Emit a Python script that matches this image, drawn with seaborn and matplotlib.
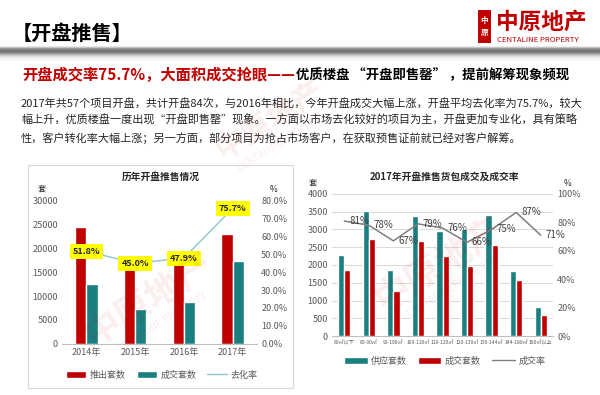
import numpy as np
import pandas as pd
import matplotlib
matplotlib.use("Agg")
import matplotlib.pyplot as plt
import seaborn as sns
from matplotlib.patches import Rectangle, Patch
from matplotlib.lines import Line2D

# ============================
# DATA
# ============================
years = ["2014年", "2015年", "2016年", "2017年"]
launched = [24400, 16200, 18100, 23000]
sold_year = [12600, 7300, 8700, 17400]
sell_rate = [0.518, 0.450, 0.479, 0.757]

areas = ["80㎡以下", "80-90㎡", "90-100㎡", "100-110㎡", "110-120㎡",
         "120-130㎡", "130-144㎡", "144-180㎡", "180㎡以上"]
supply = [2280, 3520, 1870, 3380, 2960, 3010, 3420, 1830, 830]
sold_area = [1850, 2740, 1260, 2680, 2250, 1980, 2550, 1590, 600]
deal_rate = [0.81, 0.78, 0.67, 0.79, 0.76, 0.66, 0.75, 0.87, 0.71]

RED = "#C00000"
TEAL = "#1A7F80"
TICK = "#595959"

sns.set_theme(style="white")
plt.rcParams["font.family"] = ["Noto Sans CJK SC", "DejaVu Sans"]

W, H = 600, 395
fig = plt.figure(figsize=(6, 3.95), dpi=100)


def fx(px):
    return px / W


def fy(py):
    return 1 - py / H


# ============================
# HEADER
# ============================
fig.text(fx(12), fy(33), "【开盘推售】", fontsize=14.5, weight="bold", va="center", color="black")

# logo
fig.add_artist(Rectangle((fx(478), fy(43)), fx(13), 33 / H, transform=fig.transFigure,
                         fc=RED, ec="none"))
fig.text(fx(484.5), fy(26.5), "中\n原", fontsize=5.5, color="white", ha="center", va="center",
         weight="bold", linespacing=1.5)
fig.text(fx(496), fy(22), "中原地产", fontsize=16.3, weight="bold", color=RED, va="center")
fig.text(fx(497), fy(40), "CENTALINE PROPERTY", fontsize=5.6, color=RED, va="center")

# gray separator band
band = fig.add_axes([0, fy(62), 1, 17 / H])
shades = np.array([1.0, 0.9, 0.72, 0.55, 0.47, 0.45, 0.5, 0.6, 0.72, 0.82,
                   0.89, 0.93, 0.96, 0.98, 1.0])
band.imshow(np.repeat(shades[:, None], 3, axis=1)[:, None, :] * np.ones((1, 2, 1)),
            aspect="auto", interpolation="bilinear")
band.axis("off")

# subtitle: red part, black part placed right after it
red_part = fig.text(fx(22), fy(75), "开盘成交率75.7%，大面积成交抢眼——", fontsize=11,
                    weight="bold", color=RED, va="center")
renderer = fig.canvas.get_renderer()
red_end = red_part.get_window_extent(renderer).x1
fig.text(fx(red_end + 1), fy(75.5), "优质楼盘 “开盘即售罄” ，提前解筹现象频现", fontsize=9.6,
         weight="bold", color="black", va="center")

para = [
    "2017年共57个项目开盘，共计开盘84次，与2016年相比，今年开盘成交大幅上涨，开盘平均去化率为75.7%，较大",
    "幅上升，优质楼盘一度出现“开盘即售罄”现象。一方面以市场去化较好的项目为主，开盘更加专业化，具有策略",
    "性，客户转化率大幅上涨；另一方面，部分项目为抢占市场客户，在获取预售证前就已经对客户解筹。",
]
for i, line in enumerate(para):
    fig.text(fx(21), fy(103 + i * 17.5), line, fontsize=8, color="#262626", va="center")

# watermarks
for (wx, wy, s) in [(150, 300, 26), (440, 265, 26), (270, 120, 22)]:
    fig.text(fx(wx), fy(wy), "中原地产", fontsize=s, weight="bold", color=RED, alpha=0.07,
             rotation=32, ha="center", va="center", zorder=20)
    fig.text(fx(wx + 12), fy(wy + 22), "CENTALINE PROPERTY", fontsize=7, color=RED,
             alpha=0.08, rotation=32, ha="center", va="center", zorder=20)

# ============================
# LEFT CHART
# ============================
fig.add_artist(Rectangle((fx(28), fy(388)), fx(265), 223 / H, transform=fig.transFigure,
                         fill=False, ec="#D9D9D9", lw=0.8))

ax1 = fig.add_axes([fx(62), fy(343.7), fx(195), 143 / H])
df1 = pd.DataFrame({
    "年份": years * 2,
    "类型": ["推出套数"] * 4 + ["成交套数"] * 4,
    "套数": launched + sold_year,
})
sns.barplot(data=df1, x="年份", y="套数", hue="类型", palette=[RED, TEAL], width=0.46,
            saturation=1, errorbar=None, legend=False, ax=ax1)
ax1.set_ylim(0, 30000)
ax1.set_yticks(range(0, 30001, 5000))
ax1.set_xlabel("")
ax1.set_ylabel("")
ax1.tick_params(axis="both", length=0, labelsize=6.5, labelcolor=TICK, pad=3)
for side in ["top", "left", "right"]:
    ax1.spines[side].set_visible(False)
ax1.spines["bottom"].set_color("#BFBFBF")
ax1.spines["bottom"].set_linewidth(0.8)

ax1b = ax1.twinx()
sns.lineplot(x=np.arange(len(years)), y=sell_rate, color="#8EC5CD", lw=1, ax=ax1b)
ax1b.set_ylim(0, 0.8)
ax1b.set_yticks(np.arange(0, 0.81, 0.1))
ax1b.set_yticklabels([f"{v * 100:.1f}%" for v in np.arange(0, 0.81, 0.1)])
ax1b.tick_params(axis="y", length=0, labelsize=6.5, labelcolor=TICK, pad=3)
for side in ["top", "left", "right", "bottom"]:
    ax1b.spines[side].set_visible(False)
for i, r in enumerate(sell_rate):
    ax1b.text(i, r, f"{r * 100:.1f}%", ha="center", va="center", fontsize=6.5, weight="bold",
              color="#262626", bbox=dict(fc="#FFFF00", ec="none", pad=2.2), zorder=5)
ax1.set_xlim(-0.5, 3.5)

fig.text(fx(161), fy(177), "历年开盘推售情况", fontsize=7, weight="bold", ha="center", va="center")
fig.text(fx(42), fy(189), "套", fontsize=6, ha="center", va="center", color="#262626")
fig.text(fx(273), fy(189), "%", fontsize=6, ha="center", va="center", color="#262626")

fig.legend(handles=[Patch(fc=RED, label="推出套数"), Patch(fc=TEAL, label="成交套数"),
                    Line2D([], [], color="#8EC5CD", lw=1, label="去化率")],
           loc="center", bbox_to_anchor=(fx(162), fy(375)), ncol=3, frameon=False,
           fontsize=6.5, handlelength=2.2, handleheight=0.9, columnspacing=1.2,
           handletextpad=0.4, labelcolor=TICK)

# ============================
# RIGHT CHART
# ============================
ax2 = fig.add_axes([fx(332), fy(336), fx(221), 142 / H])
df2 = pd.DataFrame({
    "面积": areas * 2,
    "类型": ["供应套数"] * 9 + ["成交套数"] * 9,
    "套数": supply + sold_area,
})
sns.barplot(data=df2, x="面积", y="套数", hue="类型", palette=[TEAL, RED], width=0.5,
            saturation=1, errorbar=None, legend=False, ax=ax2, zorder=3)
ax2.set_ylim(0, 4000)
ax2.set_yticks(range(0, 4001, 500))
ax2.set_xlabel("")
ax2.set_ylabel("")
ax2.grid(axis="y", color="#D9D9D9", lw=0.7)
ax2.set_axisbelow(True)
ax2.tick_params(axis="y", length=0, labelsize=6.5, labelcolor=TICK, pad=3)
ax2.tick_params(axis="x", length=0, labelsize=3.6, labelcolor=TICK, pad=3)
for side in ["top", "left", "right"]:
    ax2.spines[side].set_visible(False)
ax2.spines["bottom"].set_color("#BFBFBF")
ax2.spines["bottom"].set_linewidth(0.8)

ax2b = ax2.twinx()
sns.lineplot(x=np.arange(len(areas)), y=deal_rate, color="#7F7F7F", lw=1.1, ax=ax2b)
ax2b.set_ylim(0, 1)
ax2b.set_yticks(np.arange(0, 1.01, 0.2))
ax2b.set_yticklabels([f"{int(round(v * 100))}%" for v in np.arange(0, 1.01, 0.2)])
ax2b.tick_params(axis="y", length=0, labelsize=6.5, labelcolor=TICK, pad=3)
for side in ["top", "left", "right", "bottom"]:
    ax2b.spines[side].set_visible(False)
for i, r in enumerate(deal_rate):
    ax2b.annotate(f"{int(round(r * 100))}%", xy=(i, r), xytext=(3.5, 0),
                  textcoords="offset points", ha="left", va="center", fontsize=7,
                  color="#404040")
ax2.set_xlim(-0.5, len(areas) - 0.5)

fig.text(fx(445), fy(177), "2017年开盘推售货包成交及成交率", fontsize=7, weight="bold",
         ha="center", va="center")
fig.text(fx(313), fy(183), "套", fontsize=6, ha="center", va="center", color="#262626")
fig.text(fx(568), fy(183), "%", fontsize=6, ha="center", va="center", color="#262626")

fig.legend(handles=[Patch(fc=TEAL, label="供应套数"), Patch(fc=RED, label="成交套数"),
                    Line2D([], [], color="#7F7F7F", lw=1, label="成交率")],
           loc="center", bbox_to_anchor=(fx(445), fy(361)), ncol=3, frameon=False,
           fontsize=6.5, handlelength=2.6, handleheight=0.9, columnspacing=1.2,
           handletextpad=0.4, labelcolor=TICK)

fig.savefig("out.png", dpi=100)
